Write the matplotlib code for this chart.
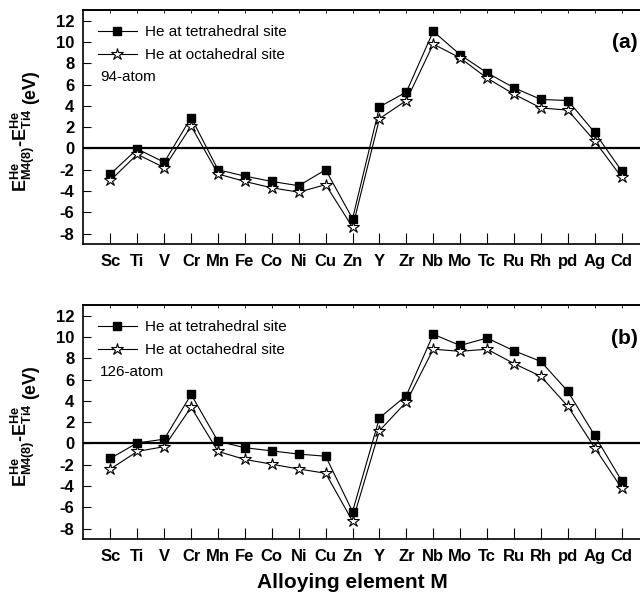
import matplotlib
matplotlib.use("Agg")
import matplotlib.pyplot as plt
import numpy as np

plt.rcParams['font.family'] = ['Liberation Sans', 'DejaVu Sans']
plt.rcParams['mathtext.fontset'] = 'custom'
plt.rcParams['mathtext.rm'] = 'Liberation Sans:bold'
plt.rcParams['mathtext.bf'] = 'Liberation Sans:bold'
plt.rcParams['mathtext.it'] = 'Liberation Sans:bold'

elements = ["Sc", "Ti", "V", "Cr", "Mn", "Fe", "Co", "Ni", "Cu", "Zn",
            "Y", "Zr", "Nb", "Mo", "Tc", "Ru", "Rh", "pd", "Ag", "Cd"]

tetra_94 = [-2.4, -0.05, -1.3, 2.9, -2.0, -2.6, -3.1, -3.5, -2.0, -6.6,
            3.9, 5.3, 11.0, 8.8, 7.1, 5.7, 4.6, 4.5, 1.5, -2.1]
octa_94 = [-3.0, -0.55, -1.8, 2.1, -2.4, -3.1, -3.7, -4.1, -3.4, -7.4,
           2.8, 4.5, 9.8, 8.5, 6.6, 5.1, 3.8, 3.6, 0.7, -2.7]

tetra_126 = [-1.4, 0.05, 0.4, 4.6, 0.2, -0.4, -0.7, -1.0, -1.2, -6.4,
             2.4, 4.5, 10.25, 9.2, 9.9, 8.7, 7.7, 4.9, 0.75, -3.5]
octa_126 = [-2.4, -0.75, -0.3, 3.4, -0.75, -1.5, -1.95, -2.4, -2.8, -7.3,
            1.2, 3.9, 8.85, 8.65, 8.85, 7.5, 6.3, 3.5, -0.4, -4.2]

legend_labels = ["He at tetrahedral site", "He at octahedral site"]
atom_labels = ["94-atom", "126-atom"]
panel_labels = ["(a)", "(b)"]
yticks = [-8, -6, -4, -2, 0, 2, 4, 6, 8, 10, 12]

W, H = 640, 595
fig = plt.figure(figsize=(W / 100, H / 100), dpi=100)

def px_axes(left, top, right, bottom):
    return [left / W, 1 - bottom / H, (right - left) / W, (bottom - top) / H]

tops = [10, 305]
axes_boxes = [px_axes(82.7, tops[0], 648.5, tops[0] + 234.3),
              px_axes(82.7, tops[1], 648.5, tops[1] + 234.3)]
data = [(tetra_94, octa_94), (tetra_126, octa_126)]

x = np.arange(len(elements))
ylabel_main = r'$\mathbf{E^{He}_{M4(8)}}$-$\mathbf{E^{He}_{Ti4}}$'
ylabel_unit = "(eV)"

for i, box in enumerate(axes_boxes):
    ax = fig.add_axes(box)
    t, o = data[i]
    ax.axhline(0, color='black', lw=1.6, zorder=1)
    ax.plot(x, t, '-', color='black', lw=0.8, marker='s', markersize=6.2,
            markerfacecolor='black', markeredgecolor='black', label=legend_labels[0], zorder=3)
    ax.plot(x, o, '-', color='black', lw=0.8, marker='*', markersize=9,
            markerfacecolor='white', markeredgecolor='black', markeredgewidth=0.8,
            label=legend_labels[1], zorder=3)
    ax.set_xlim(-1.03, 20)
    ax.set_ylim(-9, 13)
    ax.set_xticks(x)
    ax.set_xticklabels(elements, fontsize=12, fontweight='bold')
    ax.set_yticks(yticks)
    ax.set_yticklabels([str(v) for v in yticks], fontsize=12, fontweight='bold')
    ax.tick_params(axis='x', direction='in', length=8, width=0.8, pad=7)
    ax.tick_params(axis='y', direction='in', length=6, width=0.8, pad=6)
    sec = ax.secondary_xaxis('top')
    sec.set_xticks(x)
    sec.set_xticklabels([])
    sec.tick_params(direction='in', length=2.5, width=0.6)
    sec.spines['top'].set_linewidth(1.2)
    for sp in ax.spines.values():
        sp.set_linewidth(1.2)
    ax.legend(loc='upper left', bbox_to_anchor=(0.0, 1.0), frameon=False,
              fontsize=11, handlelength=2.55, handletextpad=0.5,
              labelspacing=0.58, borderaxespad=0.6)
    ax.text(0.0306, 0.714, atom_labels[i], transform=ax.transAxes, fontsize=11,
            ha='left', va='center')
    off = tops[i] - tops[0]
    fig.text(638 / W, 1 - (43 + off) / H, panel_labels[i], fontsize=15,
             fontweight='bold', ha='right', va='center')
    fig.text(27 / W, 1 - (192 + off) / H, ylabel_main, fontsize=13, fontweight='bold',
             rotation=90, rotation_mode='anchor', ha='left', va='baseline')
    fig.text(35.5 / W, 1 - (104 + off) / H, ylabel_unit, fontsize=13, fontweight='bold',
             rotation=90, rotation_mode='anchor', ha='left', va='baseline')

fig.text(352 / W, 1 - 583 / H, "Alloying element M", fontsize=15,
         fontweight='bold', ha='center', va='center')

fig.savefig("out.png", dpi=100)
